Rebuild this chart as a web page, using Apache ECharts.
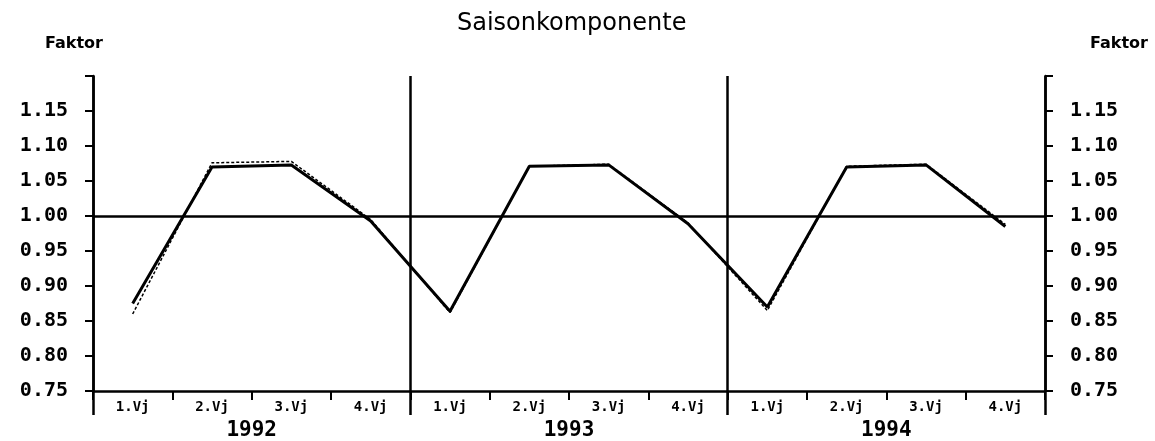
<!DOCTYPE html>
<html>
<head>
<meta charset="utf-8">
<script src="https://cdn.jsdelivr.net/npm/echarts@6/dist/echarts.min.js"></script>
<style>
html,body{margin:0;padding:0;background:#fff;}
#chart{width:1155px;height:441px;}
</style>
</head>
<body>
<div id="chart"></div>
<script>
const quarters = ['1.Vj','2.Vj','3.Vj','4.Vj','1.Vj','2.Vj','3.Vj','4.Vj','1.Vj','2.Vj','3.Vj','4.Vj'];
const years = ['1992','1993','1994'];
const saison = [0.875, 1.070, 1.073, 0.993, 0.864, 1.071, 1.073, 0.989, 0.870, 1.070, 1.073, 0.985];
const saisonAlt = [0.860, 1.076, 1.078, 0.995, 0.862, 1.071, 1.074, 0.990, 0.865, 1.071, 1.074, 0.988];
const yMin = 0.75, yMax = 1.20, yStep = 0.05;
const refLine = 1.00;

const chart = echarts.init(document.getElementById('chart'));
const mono = 'DejaVu Sans Mono';
const fmt = v => (Math.abs(v - yMax) < 1e-6 ? '' : v.toFixed(2));
const yAxisBase = {
  type: 'value', min: yMin, max: yMax, interval: yStep,
  axisLine: {show: true, lineStyle: {color: '#000', width: 2.5}},
  axisTick: {show: true, length: 8, lineStyle: {color: '#000', width: 2}},
  splitLine: {show: false},
  axisLabel: {formatter: fmt, margin: 25, color: '#000', fontFamily: mono, fontSize: 20, fontWeight: 'bold'}
};
chart.setOption({
  animation: false,
  backgroundColor: '#fff',
  title: [
    {text: 'Saisonkomponente', left: 452, top: 7,
     textStyle: {fontFamily: 'DejaVu Sans', fontSize: 24, fontWeight: 'normal', color: '#000'}},
    {text: 'Faktor', left: 40, top: 31,
     textStyle: {fontFamily: 'DejaVu Sans', fontSize: 16, fontWeight: 'bold', color: '#000'}},
    {text: 'Faktor', left: 1085, top: 31,
     textStyle: {fontFamily: 'DejaVu Sans', fontSize: 16, fontWeight: 'bold', color: '#000'}}
  ],
  grid: {left: 93, right: 110, top: 76, bottom: 50, containLabel: false},
  xAxis: [
    {type: 'category', data: quarters, boundaryGap: true, position: 'bottom',
     axisLine: {show: true, lineStyle: {color: '#000', width: 2.5}},
     axisTick: {show: true, interval: 0, length: 9, lineStyle: {color: '#000', width: 2}},
     axisLabel: {interval: 0, margin: 9, color: '#000', fontFamily: mono, fontSize: 14, fontWeight: 'bold'},
     splitLine: {show: false}},
    {type: 'category', data: years, boundaryGap: true, position: 'bottom',
     axisLine: {show: false},
     axisTick: {show: true, interval: 0, length: 24, lineStyle: {color: '#000', width: 2.5}},
     axisLabel: {interval: 0, margin: 29, color: '#000', fontFamily: mono, fontSize: 21, fontWeight: 'bold'},
     splitLine: {show: true, interval: 0, lineStyle: {color: '#000', width: 2.5}}}
  ],
  yAxis: [
    Object.assign({}, yAxisBase, {position: 'left'}),
    Object.assign({}, yAxisBase, {position: 'right'})
  ],
  series: [
    {type: 'line', data: saisonAlt, xAxisIndex: 0, yAxisIndex: 0, symbol: 'none',
     lineStyle: {color: '#000', width: 1.5, type: [3, 2]}, z: 3},
    {type: 'line', data: saison, xAxisIndex: 0, yAxisIndex: 0, symbol: 'none',
     lineStyle: {color: '#000', width: 3, type: 'solid'}, z: 4,
     markLine: {silent: true, symbol: 'none', label: {show: false},
       lineStyle: {color: '#000', width: 2.5, type: 'solid'},
       data: [{yAxis: refLine}]}}
  ]
});
</script>
</body>
</html>
